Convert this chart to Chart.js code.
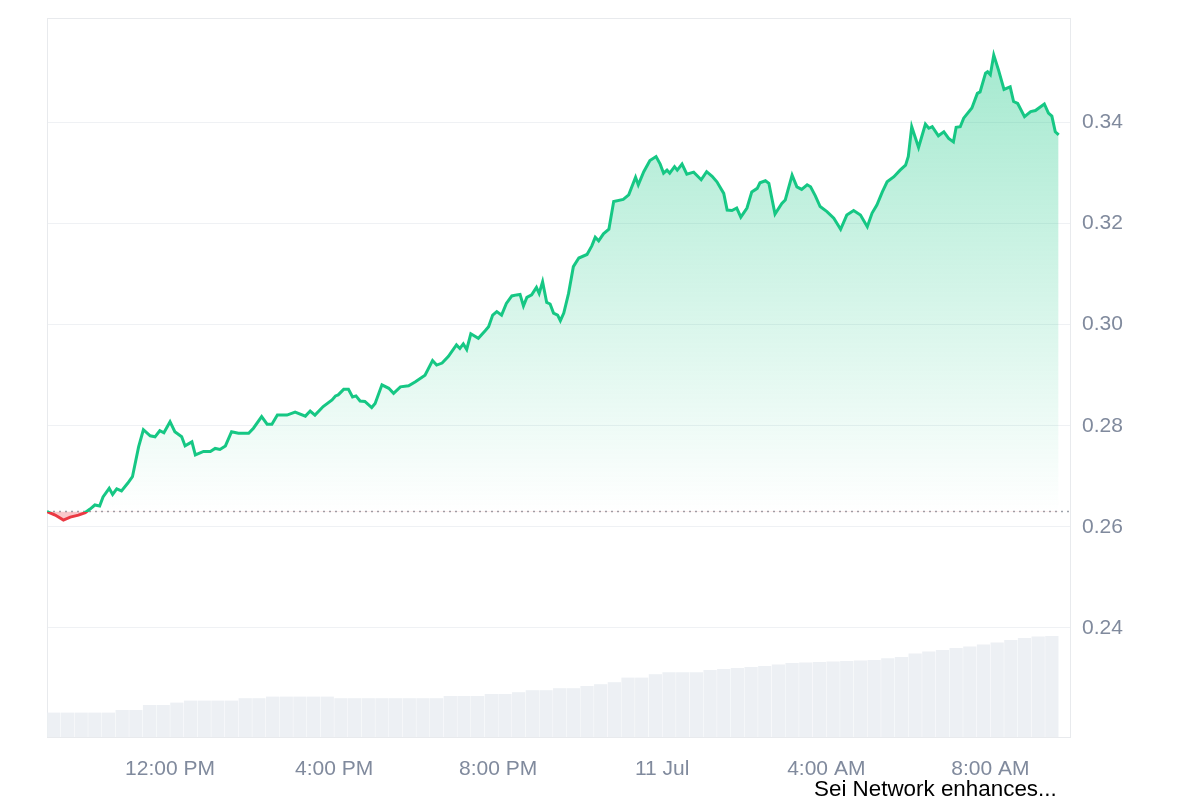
<!DOCTYPE html>
<html>
<head>
<meta charset="utf-8">
<script src="https://cdn.jsdelivr.net/npm/chart.js@4.4.1/dist/chart.umd.min.js"></script>
<style>
  body { margin: 0; background: #fff; }
  #wrap { position: relative; width: 1200px; height: 800px; }
  #news {
    position: absolute; left: 814px; top: 778px;
    font-family: "Liberation Sans", Arial, sans-serif; font-size: 22.4px; line-height: 1;
    color: #000; white-space: nowrap;
  }
</style>
</head>
<body>
<div id="wrap">
  <canvas id="chart" width="1200" height="800"></canvas>
  <div id="news">Sei Network enhances...</div>
</div>
<script>
// price points, minutes after 10 Jul 09:00
const minutes = [0,12,24,34,46,56,63,70,77,82,91,96,102,109,118,125,134,141,151,158,165,171,180,187,197,202,212,217,229,239,
  246,253,261,270,280,295,302,314,322,329,337,351,363,378,385,392,404,417,422,426,434,441,447,452,458,465,475,480,490,500,
  507,517,529,539,553,564,570,578,587,599,604,609,614,620,631,641,646,652,658,665,672,680,687,692,697,702,709,716,720,725,
  731,736,741,747,751,756,763,770,778,790,797,802,807,814,822,829,843,851,861,865,873,882,891,897,902,907,911,918,922,929,
  936,946,957,965,973,980,990,995,1002,1009,1015,1024,1031,1039,1043,1051,1056,1065,1075,1080,1090,1097,1104,1112,1117,1124,1131,1141,1151,1161,
  1170,1180,1190,1200,1207,1214,1222,1229,1239,1248,1256,1260,1265,1275,1285,1290,1295,1304,1312,1319,1326,1330,1336,1341,1353,1361,1365,1373,1376,1380,
  1385,1392,1400,1409,1414,1420,1430,1439,1446,1453,1459,1465,1470,1475,1480];
const prices = [0.2630,0.2623,0.2613,0.2619,0.2623,0.2628,0.2635,0.2643,0.2641,0.2659,0.2676,0.2664,0.2675,0.2671,0.2686,0.2699,0.2758,0.2792,0.2780,0.2778,
  0.2790,0.2786,0.2808,0.2788,0.2778,0.2760,0.2768,0.2742,0.2749,0.2749,0.2755,0.2753,0.2760,0.2788,0.2785,0.2785,0.2795,0.2818,0.2803,0.2803,
  0.2821,0.2821,0.2827,0.2819,0.2829,0.2821,0.2838,0.2851,0.2859,0.2861,0.2872,0.2872,0.2857,0.2859,0.2849,0.2848,0.2836,0.2844,0.2881,0.2874,
  0.2864,0.2877,0.2879,0.2887,0.2900,0.2929,0.2920,0.2924,0.2937,0.2960,0.2953,0.2962,0.2951,0.2982,0.2973,0.2988,0.2996,0.3019,0.3026,0.3019,
  0.3042,0.3057,0.3059,0.3060,0.3037,0.3054,0.3059,0.3074,0.3062,0.3085,0.3044,0.3041,0.3023,0.3019,0.3008,0.3023,0.3062,0.3115,0.3132,0.3139,
  0.3156,0.3173,0.3166,0.3180,0.3189,0.3244,0.3248,0.3257,0.3292,0.3277,0.3303,0.3325,0.3333,0.3318,0.3300,0.3306,0.3300,0.3313,0.3306,0.3318,
  0.3298,0.3302,0.3287,0.3303,0.3294,0.3283,0.3260,0.3227,0.3226,0.3231,0.3213,0.3231,0.3263,0.3270,0.3281,0.3285,0.3280,0.3219,0.3240,0.3247,
  0.3296,0.3273,0.3268,0.3277,0.3273,0.3255,0.3234,0.3224,0.3211,0.3189,0.3217,0.3226,0.3217,0.3194,0.3221,0.3237,0.3263,0.3283,0.3293,0.3306,
  0.3316,0.3333,0.3392,0.3351,0.3397,0.3389,0.3392,0.3374,0.3382,0.3369,0.3362,0.3391,0.3392,0.3409,0.3429,0.3458,0.3461,0.3498,0.3501,0.3495,
  0.3534,0.3504,0.3466,0.3471,0.3442,0.3438,0.3412,0.3422,0.3424,0.3431,0.3437,0.3419,0.3413,0.3382,0.3376];

// volume bars (millions), one per 20-minute slot, centred mid-slot
const volMinutes = [10,30,50,70,90,110,130,150,170,190,210,230,250,270,290,310,330,350,370,390,410,430,450,470,490,510,530,550,570,590,
  610,630,650,670,690,710,730,750,770,790,810,830,850,870,890,910,930,950,970,990,1010,1030,1050,1070,1090,1110,1130,1150,1170,1190,
  1210,1230,1250,1270,1290,1310,1330,1350,1370,1390,1410,1430,1450,1470];
const volumes = [12.2,12.2,12.2,12.2,12.2,13.5,13.5,16.0,16.0,17.2,18.2,18.2,18.2,18.2,19.4,19.4,20.2,20.2,20.2,20.2,20.2,19.4,19.4,19.4,19.4,
  19.4,19.4,19.4,19.4,20.5,20.5,20.5,21.5,21.5,22.4,23.4,23.4,24.4,24.4,25.5,26.4,27.4,29.7,29.7,31.4,32.4,32.4,32.4,33.5,34.0,
  34.5,35.0,35.5,36.3,37.0,37.3,37.5,37.8,38.0,38.3,38.5,39.4,40.0,41.8,42.8,43.5,44.5,45.3,46.3,47.3,48.5,49.5,50.2,50.5];

const xTickValues = [180, 420, 660, 900, 1140, 1380];
const xTickLabels = ["12:00 PM", "4:00 PM", "8:00 PM", "11 Jul", "4:00 AM", "8:00 AM"];
const yTickValues = [0.24, 0.26, 0.28, 0.30, 0.32, 0.34];

const basePrice = prices[0];
const GREEN = "#16c784";
const RED = "#ea3943";

// vertical gradient split at the opening price
function splitGradient(chart, topColor, bottomColor) {
  const area = chart.chartArea;
  if (!area) return topColor;
  const yb = chart.scales.y.getPixelForValue(basePrice);
  const f = Math.min(1, Math.max(0, (yb - area.top) / (area.bottom - area.top)));
  const g = chart.ctx.createLinearGradient(0, area.top, 0, area.bottom);
  g.addColorStop(0, topColor);
  g.addColorStop(f, topColor);
  g.addColorStop(f, bottomColor);
  g.addColorStop(1, bottomColor);
  return g;
}
function fillGradient(chart) {
  const area = chart.chartArea;
  if (!area) return "rgba(22,199,132,0.2)";
  const yb = chart.scales.y.getPixelForValue(basePrice);
  const g = chart.ctx.createLinearGradient(0, area.top, 0, yb);
  g.addColorStop(0, "rgba(22,199,132,0.42)");
  g.addColorStop(1, "rgba(22,199,132,0.0)");
  return g;
}

// thin frame round the plot area
const framePlugin = {
  id: "frame",
  beforeDatasetsDraw(chart) {
    const {ctx, chartArea: a} = chart;
    ctx.save();
    ctx.strokeStyle = "#e8eaed";
    ctx.lineWidth = 1;
    ctx.strokeRect(a.left + 0.5, a.top + 0.5, a.right - a.left - 1, a.bottom - a.top);
    ctx.restore();
  }
};

const font = {family: '"Liberation Sans", Arial, sans-serif', size: 21};

new Chart(document.getElementById("chart"), {
  type: "line",
  data: {
    datasets: [
      {
        label: "Price",
        data: minutes.map((m, i) => ({x: m, y: prices[i]})),
        borderColor: (c) => splitGradient(c.chart, GREEN, RED),
        backgroundColor: (c) => fillGradient(c.chart),
        fill: {target: {value: basePrice}, below: "rgba(234,57,67,0.28)"},
        borderWidth: 3,
        pointRadius: 0,
        tension: 0,
        yAxisID: "y",
        order: 0
      },
      {
        label: "Open",
        data: [{x: 0, y: basePrice}, {x: 1498, y: basePrice}],
        borderColor: "#9ea3ab",
        borderWidth: 1.5,
        borderDash: [2, 4],
        pointRadius: 0,
        fill: false,
        yAxisID: "y",
        order: 1
      },
      {
        type: "bar",
        label: "Volume",
        data: volMinutes.map((m, i) => ({x: m, y: volumes[i]})),
        backgroundColor: "#edf0f4",
        borderWidth: 0,
        barPercentage: 0.97,
        categoryPercentage: 1,
        yAxisID: "y2",
        order: 2
      }
    ]
  },
  options: {
    responsive: false,
    animation: false,
    layout: {padding: {left: 47, top: 18, right: 0, bottom: 0}},
    plugins: {legend: {display: false}, tooltip: {enabled: false}},
    scales: {
      x: {
        type: "linear",
        min: 0,
        max: 1498,
        offset: false,
        afterBuildTicks: (s) => { s.ticks = xTickValues.map(v => ({value: v})); },
        afterFit: (s) => { s.height = 63; s.paddingLeft = 0; s.paddingRight = 0; },
        ticks: {
          autoSkip: false, maxRotation: 0, padding: 20, color: "#808a9d", font: font,
          callback: (v) => xTickLabels[xTickValues.indexOf(v)]
        },
        grid: {display: false, drawTicks: false},
        border: {display: false}
      },
      y: {
        position: "right",
        min: 0.21836,
        max: 0.36073,
        afterBuildTicks: (s) => { s.ticks = yTickValues.map(v => ({value: v})); },
        afterFit: (s) => { s.width = 129; s.paddingTop = 0; s.paddingBottom = 0; },
        ticks: {padding: 11, color: "#808a9d", font: font, callback: (v) => v.toFixed(2)},
        grid: {color: "#eff1f4", lineWidth: 1, drawTicks: false},
        border: {display: false}
      },
      y2: {display: false, min: 0, max: 359.5}
    }
  },
  plugins: [framePlugin]
});
</script>
</body>
</html>
